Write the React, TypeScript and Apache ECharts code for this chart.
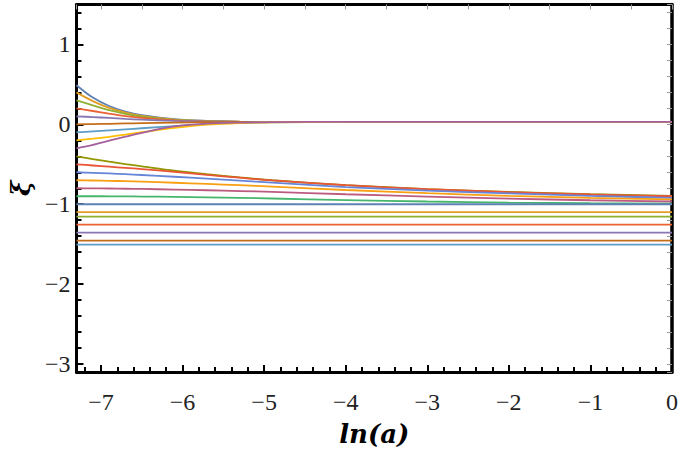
import React, { useEffect, useRef } from "react";
import * as echarts from "echarts";

// x samples (ln a)
const xs = [-7.3, -7.1, -6.9, -6.7, -6.5, -6.1, -5.7, -5.3, -4.9, -4.0, -3.0, -2.0, -1.0, 0];

// upper family (converging to ~0)
const s1 = [0.49, 0.335, 0.23, 0.16, 0.115, 0.065, 0.043, 0.034, 0.03, 0.03, 0.03, 0.03, 0.03, 0.03];
const s2 = [0.40, 0.29, 0.205, 0.148, 0.107, 0.06, 0.041, 0.033, 0.03, 0.03, 0.03, 0.03, 0.03, 0.03];
const s3 = [0.30, 0.238, 0.178, 0.132, 0.097, 0.055, 0.039, 0.032, 0.03, 0.03, 0.03, 0.03, 0.03, 0.03];
const s4 = [0.20, 0.167, 0.133, 0.103, 0.08, 0.05, 0.037, 0.031, 0.03, 0.03, 0.03, 0.03, 0.03, 0.03];
const s5 = [0.10, 0.091, 0.08, 0.068, 0.058, 0.043, 0.035, 0.031, 0.03, 0.03, 0.03, 0.03, 0.03, 0.03];
const s6 = [0.0, 0.003, 0.007, 0.011, 0.015, 0.022, 0.027, 0.029, 0.03, 0.03, 0.03, 0.03, 0.03, 0.03];
const s7 = [-0.10, -0.088, -0.075, -0.062, -0.049, -0.022, 0.002, 0.018, 0.026, 0.03, 0.03, 0.03, 0.03, 0.03];
const s8 = [-0.20, -0.18, -0.156, -0.128, -0.099, -0.045, -0.004, 0.016, 0.026, 0.03, 0.03, 0.03, 0.03, 0.03];
const s9 = [-0.30, -0.258, -0.205, -0.155, -0.106, -0.026, 0.009, 0.022, 0.028, 0.03, 0.03, 0.03, 0.03, 0.03];

// lower family (slowly decreasing toward ~ -0.9 … -1)
const s10 = [-0.40, -0.435, -0.467, -0.497, -0.525, -0.58, -0.625, -0.665, -0.70, -0.76, -0.81, -0.845, -0.875, -0.895];
const s11 = [-0.50, -0.515, -0.53, -0.545, -0.56, -0.595, -0.632, -0.668, -0.702, -0.762, -0.812, -0.848, -0.878, -0.90];
const s12 = [-0.60, -0.607, -0.615, -0.624, -0.634, -0.656, -0.68, -0.705, -0.73, -0.785, -0.83, -0.865, -0.895, -0.92];
const s13 = [-0.70, -0.703, -0.707, -0.712, -0.718, -0.731, -0.746, -0.762, -0.78, -0.822, -0.862, -0.895, -0.92, -0.94];
const s14 = [-0.80, -0.801, -0.803, -0.806, -0.809, -0.816, -0.825, -0.835, -0.846, -0.875, -0.905, -0.93, -0.95, -0.966];
const s15 = [-0.90, -0.90, -0.901, -0.902, -0.904, -0.908, -0.913, -0.92, -0.928, -0.948, -0.966, -0.98, -0.988, -0.993];

// constant levels
const flatLevels = [-1.0, -1.1, -1.155, -1.255, -1.355, -1.455, -1.505];

const curves = [s1, s2, s3, s4, s5, s6, s7, s8, s9, s10, s11, s12, s13, s14, s15];

const palette = [
  "#5E81B5", "#E19C24", "#8FB032", "#EB6235", "#8778B3", "#C56E1A", "#5D9EC7",
  "#FFBF00", "#A5609D", "#929600", "#E95536", "#6685D9", "#F89F13", "#BC5B80", "#47B66D",
];

const X_MIN = -7.3;
const X_MAX = 0;
const Y_MIN = -3.1;
const Y_MAX = 1.5;

const fmt = (v: number) => {
  if (Math.abs(v - Math.round(v)) > 1e-6) return "";
  const r = Math.round(v);
  return r < 0 ? "\u2212" + Math.abs(r) : String(r);
};

export default function App() {
  const ref = useRef<HTMLDivElement>(null);
  useEffect(() => {
    if (!ref.current) return;
    const chart = echarts.init(ref.current, undefined, { renderer: "svg" });

    const series: any[] = [];
    curves.forEach((c, i) => {
      series.push({
        type: "line",
        data: xs.map((x, j) => [x, c[j]]),
        smooth: 0.3,
        showSymbol: false,
        symbol: "none",
        lineStyle: { color: palette[i % palette.length], width: 1.8 },
      });
    });
    flatLevels.forEach((v, i) => {
      series.push({
        type: "line",
        data: [[X_MIN, v], [X_MAX, v]],
        showSymbol: false,
        symbol: "none",
        lineStyle: { color: palette[i], width: 1.8 },
      });
    });

    const labelFont = {
      fontFamily: "Liberation Serif",
      fontSize: 24,
      color: "#222",
    };
    const nameFont = {
      fontFamily: "DejaVu Serif",
      fontStyle: "italic",
      fontWeight: "bold",
      fontSize: 26,
      color: "#000",
    };

    chart.setOption({
      animation: false,
      grid: { left: 76.5, right: 9, top: 4.5, bottom: 79.5, containLabel: false },
      xAxis: [
        {
          type: "value",
          position: "bottom",
          min: X_MIN,
          max: X_MAX,
          minInterval: 1,
          maxInterval: 1,
          axisLine: { show: true, onZero: false, lineStyle: { color: "#000", width: 3 } },
          axisTick: { show: true, inside: true, length: 7, lineStyle: { color: "#000", width: 2 } },
          minorTick: { show: true, splitNumber: 5, length: 5, lineStyle: { color: "#000", width: 2 } },
          splitLine: { show: false },
          axisLabel: { ...labelFont, margin: 18, formatter: fmt, showMinLabel: false },
          name: "ln(a)",
          nameLocation: "middle",
          nameGap: 49,
          nameTextStyle: nameFont,
        },
        {
          type: "value",
          position: "top",
          min: X_MIN,
          max: X_MAX,
          minInterval: 1,
          maxInterval: 1,
          axisLine: { show: true, onZero: false, lineStyle: { color: "#000", width: 3 } },
          axisTick: { show: true, inside: true, length: 5, lineStyle: { color: "#999", width: 1 } },
          minorTick: { show: true, splitNumber: 2, length: 5, lineStyle: { color: "#999", width: 1 } },
          splitLine: { show: false },
          axisLabel: { show: false },
        },
      ],
      yAxis: [
        {
          type: "value",
          position: "left",
          min: Y_MIN,
          max: Y_MAX,
          minInterval: 1,
          maxInterval: 1,
          axisLine: { show: true, onZero: false, lineStyle: { color: "#000", width: 3 } },
          axisTick: { show: true, inside: true, length: 7, lineStyle: { color: "#000", width: 2 } },
          minorTick: { show: true, splitNumber: 5, length: 5, lineStyle: { color: "#000", width: 2 } },
          splitLine: { show: false },
          axisLabel: { ...labelFont, margin: 6, formatter: fmt },
          name: "\u03BE",
          nameLocation: "middle",
          nameGap: 36,
          nameRotate: 90,
          nameTextStyle: nameFont,
        },
        {
          type: "value",
          position: "right",
          min: Y_MIN,
          max: Y_MAX,
          minInterval: 1,
          maxInterval: 1,
          axisLine: { show: true, onZero: false, lineStyle: { color: "#000", width: 3.5 } },
          axisTick: { show: true, inside: true, length: 5, lineStyle: { color: "#999", width: 1 } },
          minorTick: { show: true, splitNumber: 5, length: 5, lineStyle: { color: "#999", width: 1 } },
          splitLine: { show: false },
          axisLabel: { show: false },
        },
      ],
      series,
    });
    return () => chart.dispose();
  }, []);
  return (
    <div
      ref={ref}
      style={{ position: "absolute", left: 0, top: 0, width: 681, height: 452, background: "#fff" }}
    />
  );
}
